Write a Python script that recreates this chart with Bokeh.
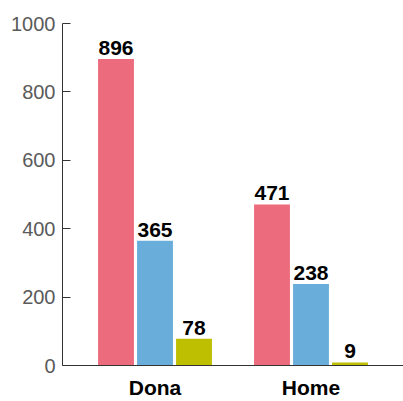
from bokeh.plotting import figure
from bokeh.models import ColumnDataSource, FactorRange
from bokeh.transform import dodge
from bokeh.core.properties import value
from bokeh.embed import file_html
from bokeh.resources import INLINE

categories = ["Dona", "Home"]
series_a = [896, 471]
series_b = [365, 238]
series_c = [78, 9]
y_ticks = [0, 200, 400, 600, 800, 1000]

colors = ["#EC6B7D", "#69AEDB", "#BDBF00"]

src = ColumnDataSource(dict(
    cat=categories,
    a=series_a, b=series_b, c=series_c,
    ta=[str(v) for v in series_a],
    tb=[str(v) for v in series_b],
    tc=[str(v) for v in series_c],
))

p = figure(width=403, height=401, output_backend="svg", toolbar_location=None,
           x_range=FactorRange(factors=categories, range_padding=0.093),
           y_range=(0, 1000),
           min_border_left=62, min_border_right=0, min_border_top=23, min_border_bottom=36)

FONT = "Liberation Sans"
for col, tcol, off, color in [("a", "ta", -0.25, colors[0]), ("b", "tb", 0.0, colors[1]), ("c", "tc", 0.25, colors[2])]:
    xd = dodge("cat", off, range=p.x_range)
    p.vbar(x=xd, top=col, width=0.23, source=src, fill_color=color, line_color=None)
    p.text(x=xd, y=col, text=tcol, source=src, text_align="center", text_baseline="bottom",
           y_offset=-4, text_font=value(FONT), text_font_style="bold", text_font_size="21px",
           text_color="#000000")

p.xgrid.grid_line_color = None
p.ygrid.grid_line_color = None
p.outline_line_color = None

p.yaxis.ticker = y_ticks
p.yaxis.minor_tick_line_color = None
p.yaxis.major_tick_in = 8
p.yaxis.major_tick_out = 0
p.yaxis.major_tick_line_color = "#333333"
p.yaxis.axis_line_color = "#333333"
p.yaxis.major_label_standoff = 7
p.yaxis.major_label_text_font = FONT
p.yaxis.major_label_text_font_size = "20px"
p.yaxis.major_label_text_color = "#5a5a5a"

p.xaxis.major_tick_line_color = None
p.xaxis.minor_tick_line_color = None
p.xaxis.major_tick_in = 0
p.xaxis.major_tick_out = 0
p.xaxis.axis_line_color = "#333333"
p.xaxis.major_label_standoff = 10
p.xaxis.major_label_text_font = FONT
p.xaxis.major_label_text_font_style = "bold"
p.xaxis.major_label_text_font_size = "21px"
p.xaxis.major_label_text_color = "#000000"

open("out.html", "w").write(file_html(p, INLINE))
